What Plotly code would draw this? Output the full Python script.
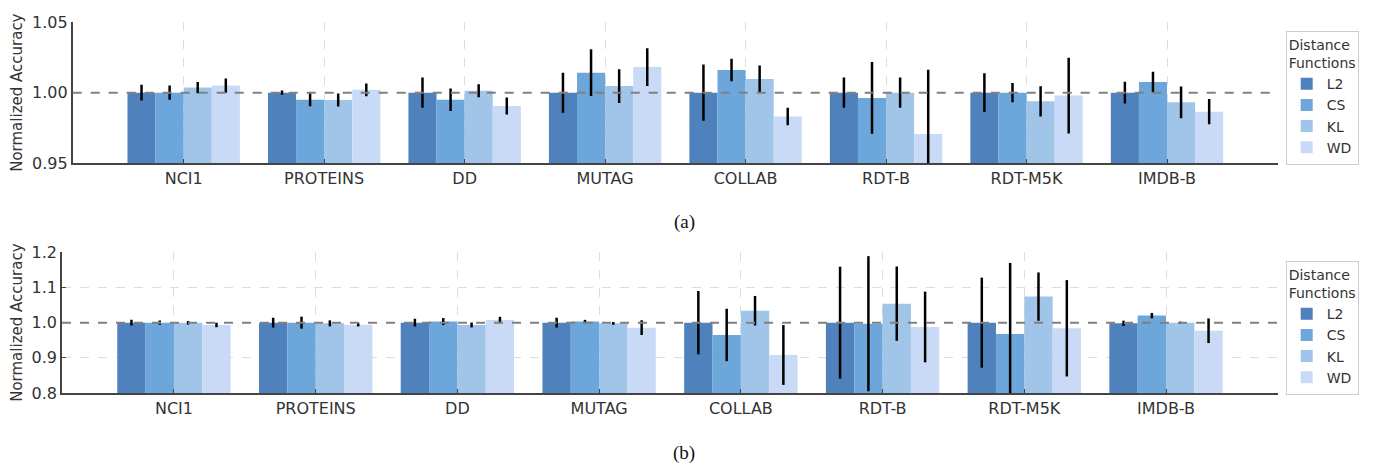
import plotly.graph_objects as go

categories = ["NCI1", "PROTEINS", "DD", "MUTAG", "COLLAB", "RDT-B", "RDT-M5K", "IMDB-B"]
series_names = ["L2", "CS", "KL", "WD"]
colors = ["#4f81bd", "#6ca6db", "#a0c5e8", "#c9daf6"]

# (a) values and error half-widths
a_L2 = [1.000, 1.000, 1.000, 1.000, 1.000, 1.000, 1.000, 1.000]
a_CS = [1.000, 0.995, 0.995, 1.0142, 1.0161, 0.9962, 1.000, 1.0076]
a_KL = [1.0036, 0.9948, 1.0014, 1.0047, 1.0097, 1.000, 0.9938, 0.9931]
a_WD = [1.005, 1.002, 0.9905, 1.0182, 0.983, 0.9706, 0.9979, 0.9865]
a_L2_err = [0.0056, 0.0015, 0.0107, 0.0142, 0.020, 0.0107, 0.0137, 0.0078]
a_CS_err = [0.005, 0.0046, 0.008, 0.0166, 0.008, 0.0255, 0.0069, 0.0073]
a_KL_err = [0.004, 0.0046, 0.0046, 0.012, 0.0096, 0.0107, 0.0108, 0.0113]
a_WD_err = [0.005, 0.0045, 0.006, 0.0134, 0.0062, 0.0457, 0.0269, 0.0089]

# (b) values and error half-widths
b_L2 = [1.000, 1.000, 1.000, 1.000, 1.000, 1.000, 1.000, 0.998]
b_CS = [1.000, 1.000, 1.003, 1.003, 0.965, 0.997, 0.9678, 1.020]
b_KL = [1.000, 0.998, 0.9934, 0.998, 1.034, 1.054, 1.074, 1.000]
b_WD = [0.9934, 0.9943, 1.0076, 0.9858, 0.908, 0.9877, 0.984, 0.977]
b_L2_err = [0.008, 0.014, 0.011, 0.014, 0.090, 0.159, 0.128, 0.0076]
b_CS_err = [0.006, 0.017, 0.010, 0.005, 0.0744, 0.192, 0.202, 0.0076]
b_KL_err = [0.005, 0.0085, 0.007, 0.004, 0.042, 0.1057, 0.0687, 0.003]
b_WD_err = [0.0066, 0.005, 0.009, 0.021, 0.085, 0.1005, 0.137, 0.035]

panel_a = [(a_L2, a_L2_err), (a_CS, a_CS_err), (a_KL, a_KL_err), (a_WD, a_WD_err)]
panel_b = [(b_L2, b_L2_err), (b_CS, b_CS_err), (b_KL, b_KL_err), (b_WD, b_WD_err)]

FONT = "DejaVu Sans"
TXT = "#333333"

fig = go.Figure()

for i, name in enumerate(series_names):
    vals, errs = panel_a[i]
    fig.add_trace(go.Bar(
        x=categories, y=vals, name=name, marker=dict(color=colors[i], line=dict(width=0)),
        error_y=dict(type="data", array=errs, visible=True, color="black", thickness=2.5, width=0),
        xaxis="x", yaxis="y", legend="legend", offsetgroup=name,
    ))
for i, name in enumerate(series_names):
    vals, errs = panel_b[i]
    fig.add_trace(go.Bar(
        x=categories, y=vals, name=name, marker=dict(color=colors[i], line=dict(width=0)),
        error_y=dict(type="data", array=errs, visible=True, color="black", thickness=2.5, width=0),
        xaxis="x2", yaxis="y2", legend="legend2", offsetgroup=name,
    ))

grid = dict(showgrid=True, gridcolor="#dddddd", griddash="dash", gridwidth=1)
axline = dict(showline=True, linecolor="#444444", linewidth=1.6, ticks="inside",
              ticklen=4, tickcolor="#444444", tickwidth=1.2, zeroline=False, automargin=False)

xr = [-0.79, 7.79]
legend_common = dict(xanchor="left", yanchor="top",
                     bgcolor="white", bordercolor="#cccccc", borderwidth=1,
                     title=dict(text="Distance<br>Functions", font=dict(size=14, family=FONT, color=TXT)),
                     font=dict(size=14, family=FONT, color=TXT), tracegroupgap=2)
fig.update_layout(
    width=1366, height=456,
    margin=dict(l=0, r=0, t=0, b=0, autoexpand=False),
    paper_bgcolor="white", plot_bgcolor="white",
    barmode="group", bargap=0.2, bargroupgap=0,
    font=dict(family=FONT, color=TXT, size=15),
    xaxis=dict(domain=[0.04736, 0.92972], anchor="y", range=xr, type="category",
               tickfont=dict(size=16, family=FONT, color=TXT), **grid, **axline),
    yaxis=dict(domain=[0.66009, 0.96864], anchor="x", range=[0.95, 1.05],
               tickvals=[0.95, 1.00, 1.05], ticktext=["0.95", "1.00", "1.05"],
               tickfont=dict(size=16, family=FONT, color=TXT),
               title=dict(text="Normalized Accuracy", font=dict(size=15, family=FONT, color=TXT), standoff=6),
               **grid, **axline),
    xaxis2=dict(domain=[0.03953, 0.92972], anchor="y2", range=xr, type="category",
                tickfont=dict(size=16, family=FONT, color=TXT), **grid, **axline),
    yaxis2=dict(domain=[0.15570, 0.46425], anchor="x2", range=[0.8, 1.2],
                tickvals=[0.8, 0.9, 1.0, 1.1, 1.2], ticktext=["0.8", "0.9", "1.0", "1.1", "1.2"],
                tickfont=dict(size=16, family=FONT, color=TXT),
                title=dict(text="Normalized Accuracy", font=dict(size=15, family=FONT, color=TXT), standoff=6),
                **grid, **axline),
    legend=dict(x=0.93536, y=0.95022, **legend_common),
    legend2=dict(x=0.93536, y=0.44583, **legend_common),
    showlegend=True,
)

# reference lines at 1.0
fig.add_shape(type="line", xref="x domain", yref="y", x0=0, x1=1, y0=1.0, y1=1.0,
              line=dict(color="#808080", width=2, dash="dash"), layer="above")
fig.add_shape(type="line", xref="x2 domain", yref="y2", x0=0, x1=1, y0=1.0, y1=1.0,
              line=dict(color="#808080", width=2, dash="dash"), layer="above")

# captions
fig.add_annotation(text="(a)", x=0.49488, y=0.5307, xref="paper", yref="paper",
                   showarrow=False, font=dict(family="Liberation Serif", size=19, color="#111111"))
fig.add_annotation(text="(b)", x=0.49488, y=0.0263, xref="paper", yref="paper", yshift=-14,
                   showarrow=False, font=dict(family="Liberation Serif", size=19, color="#111111"))

fig.write_html("out.html")
